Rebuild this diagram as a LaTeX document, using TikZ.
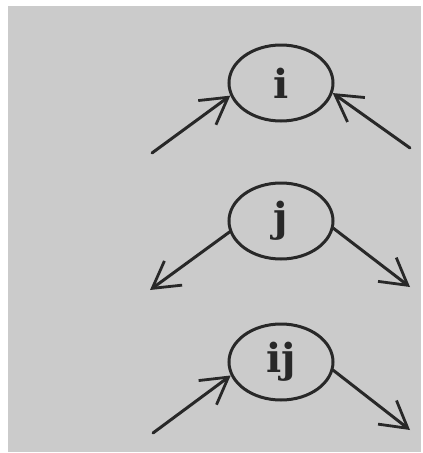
\documentclass[tikz,border=0pt]{standalone}
\usepackage{fontspec}
\setmainfont{DejaVu Serif}
\usetikzlibrary{shapes.geometric,arrows.meta}
\definecolor{paper}{RGB}{203,203,203}
\definecolor{ink}{RGB}{40,40,40}
\tikzset{
  state/.style={ellipse, draw=ink, line width=3pt, minimum width=104pt, minimum height=76pt, inner sep=0pt, font=\fontsize{40}{44}\selectfont\bfseries, text=ink},
  flow/.style={draw=ink, line width=3pt, line cap=round, -{Straight Barb[length=26pt,width=30pt,line width=2.8pt]}}
}
\begin{document}
\begin{tikzpicture}[x=1pt,y=-1pt]
\useasboundingbox (0,0) rectangle (423,453);
\fill[paper] (8,6) rectangle (421,452);
\node[state] (i) at (281,83) {i};
\node[state] (j) at (281,221) {j};
\node[state] (ij) at (281,362) {ij};
\coordinate (ia) at (152,153);
\coordinate (ib) at (410,148);
\coordinate (ja) at (150,290);
\coordinate (jb) at (410,287);
\coordinate (ka) at (153,433);
\coordinate (kb) at (410,430);
\draw[flow] (ia) -- (i.194);
\draw[flow] (ib) -- (i.349);
\draw[flow] (j.192) -- (ja);
\draw[flow] (j.352) -- (jb);
\draw[flow] (ka) -- (ij.195);
\draw[flow] (ij.351) -- (kb);
\end{tikzpicture}
\end{document}
